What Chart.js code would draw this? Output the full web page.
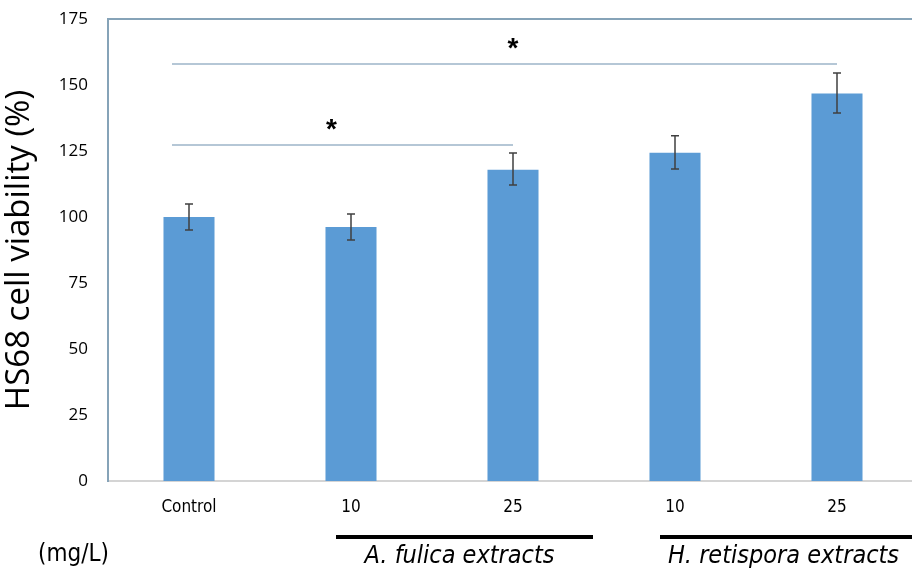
<!DOCTYPE html>
<html>
<head>
<meta charset="utf-8">
<script src="https://cdn.jsdelivr.net/npm/chart.js@4.4.0/dist/chart.umd.min.js"></script>
<style>
    html, body { margin: 0; padding: 0; background: #fff; overflow: hidden; }
    #wrap { width: 918px; height: 569px; position: relative; }
</style>
</head>
<body>
<div id="wrap"><canvas id="chart"></canvas></div>
<script>
// Data
const categories = ['Control', '10', '25', '10', '25'];
const viability = [100, 96.2, 117.9, 124.3, 146.8];
const errLow = [95.1, 91.3, 112.1, 118.2, 139.4];
const errHigh = [104.9, 101.1, 124.2, 130.8, 154.5];
const yTicks = [0, 25, 50, 75, 100, 125, 150, 175];

// significance brackets: from category, to category, y level, star position
const sigFrom = [0, 0];
const sigTo = [4, 2];
const sigLevel = [158, 127.3];
const sigStarAt = [2, 0.88];

// extract groups under the axis
const groupNames = ['A. fulica extracts', 'H. retispora extracts'];
const groupFirst = [1, 3];
const groupLast = [2, 4];

const sansFont = "'Open Sans', 'Liberation Sans', sans-serif";
const narrowFont = "'Liberation Sans Narrow', 'DejaVu Sans Condensed', sans-serif";

// Custom drawing: error bars, significance lines, group bars
const extrasPlugin = {
    id: 'extras',
    afterDatasetsDraw(chart) {
        const ctx = chart.ctx;
        const x = chart.scales.x;
        const y = chart.scales.y;
        const area = chart.chartArea;

        ctx.save();

        // top frame line
        ctx.strokeStyle = '#86a3b8';
        ctx.lineWidth = 2;
        ctx.beginPath();
        ctx.moveTo(area.left, area.top);
        ctx.lineTo(chart.width, area.top);
        ctx.stroke();

        // error bars
        ctx.strokeStyle = '#404040';
        ctx.lineWidth = 1.5;
        categories.forEach((c, i) => {
            const cx = x.getPixelForValue(i);
            const yl = y.getPixelForValue(errLow[i]);
            const yh = y.getPixelForValue(errHigh[i]);
            ctx.beginPath();
            ctx.moveTo(cx, yl);
            ctx.lineTo(cx, yh);
            ctx.moveTo(cx - 4, yl);
            ctx.lineTo(cx + 4, yl);
            ctx.moveTo(cx - 4, yh);
            ctx.lineTo(cx + 4, yh);
            ctx.stroke();
        });

        // significance lines with asterisks
        const step = x.getPixelForValue(1) - x.getPixelForValue(0);
        sigLevel.forEach((lv, i) => {
            const x1 = x.getPixelForValue(sigFrom[i]) - 17;
            const x2 = x.getPixelForValue(sigTo[i]);
            const ly = y.getPixelForValue(lv);
            ctx.strokeStyle = '#9db5c8';
            ctx.lineWidth = 1.5;
            ctx.beginPath();
            ctx.moveTo(x1, ly);
            ctx.lineTo(x2, ly);
            ctx.stroke();
            ctx.fillStyle = '#000';
            ctx.font = "bold 28px 'Liberation Sans', sans-serif";
            ctx.textAlign = 'center';
            ctx.textBaseline = 'alphabetic';
            const sx = x.getPixelForValue(0) + sigStarAt[i] * step;
            ctx.fillText('*', sx, ly - 7);
        });

        // group underlines and names
        groupNames.forEach((name, i) => {
            const x1 = x.getPixelForValue(groupFirst[i]) - 15;
            const x2 = x.getPixelForValue(groupLast[i]) + 80;
            ctx.strokeStyle = '#000';
            ctx.lineWidth = 4;
            ctx.beginPath();
            ctx.moveTo(x1, 537);
            ctx.lineTo(x2, 537);
            ctx.stroke();
            ctx.fillStyle = '#000';
            ctx.font = "italic 25px " + narrowFont;
            ctx.textAlign = 'center';
            ctx.textBaseline = 'middle';
            ctx.fillText(name, (x1 + x2) / 2 - 5, 556);
        });

        // units label
        ctx.font = "24px " + narrowFont;
        ctx.textAlign = 'left';
        ctx.fillText('(mg/L)', 38, 555);

        ctx.restore();
    }
};

new Chart(document.getElementById('chart'), {
    type: 'bar',
    data: {
        labels: categories,
        datasets: [{
            data: viability,
            backgroundColor: '#5b9bd5',
            barPercentage: 0.63,
            categoryPercentage: 0.5
        }]
    },
    options: {
        responsive: true,
        maintainAspectRatio: false,
        animation: false,
        layout: { padding: { top: 19, right: 0, left: 0, bottom: 0 } },
        plugins: {
            legend: { display: false },
            tooltip: { enabled: false }
        },
        scales: {
            x: {
                grid: { display: false, drawTicks: false },
                border: { color: '#d4d4d4', width: 2 },
                ticks: {
                    color: '#000',
                    padding: 16,
                    font: { family: narrowFont, size: 17 }
                },
                afterFit(scale) {
                    scale.height = 88;
                    scale.paddingLeft = 0;
                    scale.paddingRight = 0;
                }
            },
            y: {
                min: 0,
                max: 175,
                afterBuildTicks(scale) {
                    scale.ticks = yTicks.map(v => ({ value: v }));
                },
                grid: { display: false, drawTicks: false },
                border: { color: '#86a3b8', width: 2 },
                ticks: {
                    color: '#000',
                    padding: 20,
                    font: { family: sansFont, size: 17 }
                },
                title: {
                    display: true,
                    text: 'HS68 cell viability (%)',
                    color: '#000',
                    font: { family: sansFont, size: 33 },
                    padding: { top: 0, bottom: 2 }
                },
                afterFit(scale) {
                    scale.width = 108;
                    scale.paddingTop = 0;
                    scale.paddingBottom = 0;
                }
            }
        }
    },
    plugins: [extrasPlugin]
});
</script>
</body>
</html>
